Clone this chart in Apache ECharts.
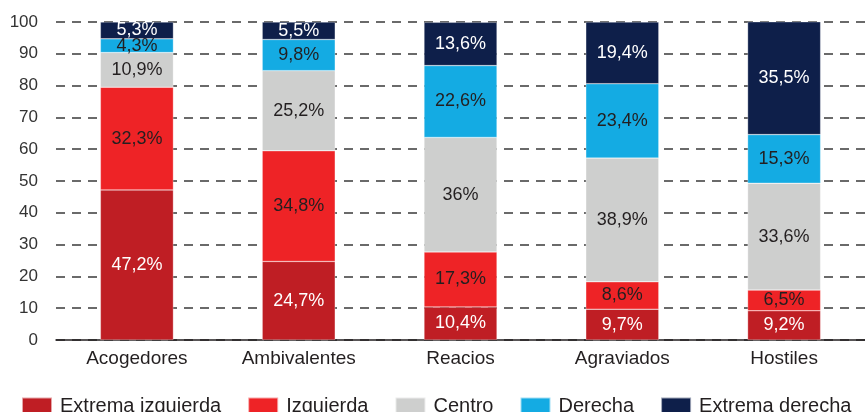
<!DOCTYPE html>
<html>
<head>
<meta charset="utf-8">
<script src="https://cdn.jsdelivr.net/npm/echarts@6/dist/echarts.min.js"></script>
<style>
  html, body { margin: 0; padding: 0; background: #fff; }
  #chart { width: 865px; height: 412px; }
</style>
</head>
<body>
<div id="chart"></div>
<script>
// datos del gráfico
const categories = ['Acogedores', 'Ambivalentes', 'Reacios', 'Agraviados', 'Hostiles'];
const seriesNames = ['Extrema izquierda', 'Izquierda', 'Centro', 'Derecha', 'Extrema derecha'];
const extremaIzquierda = [47.2, 24.7, 10.4, 9.7, 9.2];
const izquierda = [32.3, 34.8, 17.3, 8.6, 6.5];
const centro = [10.9, 25.2, 36, 38.9, 33.6];
const derecha = [4.3, 9.8, 22.6, 23.4, 15.3];
const extremaDerecha = [5.3, 5.5, 13.6, 19.4, 35.5];

const colors = ['#BF1E24', '#EE2326', '#CECFCE', '#14ABE3', '#0E1F4A'];
const labelColors = ['#ffffff', '#231F20', '#231F20', '#231F20', '#ffffff'];
const values = [extremaIzquierda, izquierda, centro, derecha, extremaDerecha];

const font = '"Liberation Sans", Arial, sans-serif';

const chart = echarts.init(document.getElementById('chart'), null, { renderer: 'canvas' });

const series = seriesNames.map((name, i) => ({
  name: name,
  type: 'bar',
  stack: 'total',
  barWidth: 73,
  data: values[i],
  itemStyle: { color: colors[i], borderColor: 'rgba(255,255,255,0.6)', borderWidth: 0.5 },
  label: {
    show: true,
    position: 'inside',
    color: labelColors[i],
    fontFamily: font,
    fontSize: 18,
    formatter: p => String(p.value).replace('.', ',') + '%'
  }
}));

chart.setOption({
  animation: false,
  color: colors,
  textStyle: { fontFamily: font },
  grid: { left: 56, width: 821, top: 22, bottom: 72 },
  legend: {
    data: seriesNames,
    left: 21,
    top: 396,
    padding: 0,
    itemWidth: 30,
    itemHeight: 17,
    itemGap: 26,
    icon: 'rect',
    textStyle: { fontFamily: font, fontSize: 20, color: '#231F20', padding: [0, 0, 0, 3] }
  },
  xAxis: {
    type: 'category',
    data: categories,
    axisLine: { lineStyle: { color: '#231F20', width: 1.5 } },
    axisTick: { show: false },
    axisLabel: { color: '#231F20', fontSize: 19, margin: 9, fontFamily: font }
  },
  yAxis: {
    type: 'value',
    min: 0,
    max: 100,
    interval: 10,
    axisLine: { show: false },
    axisTick: { show: false },
    axisLabel: { color: '#333333', fontSize: 17, margin: 18, fontFamily: font },
    splitLine: { lineStyle: { color: '#3a3a3a', type: [9, 7], width: 1.5 } }
  },
  series: series
});
</script>
</body>
</html>
